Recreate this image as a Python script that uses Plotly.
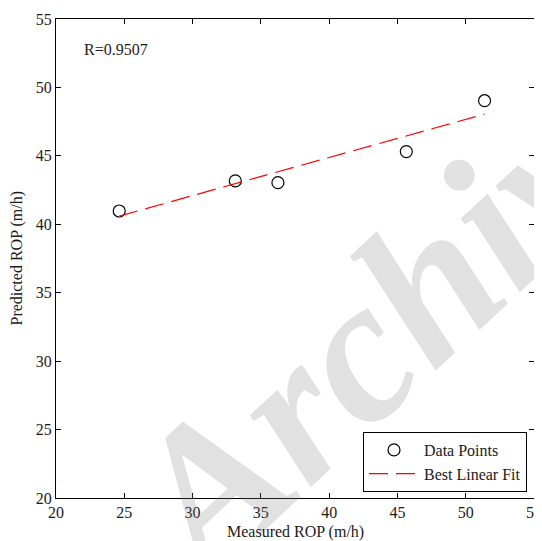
import plotly.graph_objects as go

measured = [24.63, 33.13, 36.25, 45.65, 51.38]
predicted = [40.97, 43.17, 43.04, 45.31, 49.03]
fit_x = [24.63, 51.38]
fit_y = [40.6, 48.05]
ticks = [20, 25, 30, 35, 40, 45, 50, 55]
r_text = "R=0.9507"
x_title = "Measured ROP (m/h)"
y_title = "Predicted ROP (m/h)"
watermark = "Archive"

FONT = "Liberation Serif, Times New Roman, serif"
TXT = "#1a1a1a"

# page body has an 8px default margin; plot area targeted at page px x 56..534, y 19..498
PW, PH = 478, 479

fig = go.Figure()
fig.add_trace(go.Scatter(
    x=measured, y=predicted, mode="markers", name="Data Points",
    marker=dict(symbol="circle-open", size=12, color="black", line=dict(width=1.2, color="black")),
))
fig.add_trace(go.Scatter(
    x=fit_x, y=fit_y, mode="lines", name="Best Linear Fit",
    line=dict(color="red", width=1.2, dash="19px,8px"),
))

axis_common = dict(
    range=[20, 55], tickmode="array", tickvals=ticks, ticktext=[str(t) for t in ticks],
    ticks="inside", ticklen=5, tickwidth=1, tickcolor="black",
    showline=True, linecolor="black", linewidth=1, mirror="ticks",
    showgrid=False, zeroline=False, automargin=False,
    tickfont=dict(family=FONT, size=16, color=TXT),
)

fig.update_layout(
    width=534, height=533,
    margin=dict(l=48, r=8, t=11, b=43, autoexpand=False),
    paper_bgcolor="white", plot_bgcolor="white",
    font=dict(family=FONT, size=16, color=TXT),
    xaxis=dict(**axis_common),
    yaxis=dict(**axis_common),
    legend=dict(
        x=(527 - 56) / PW, y=(498 - 492) / PH, xanchor="right", yanchor="bottom",
        bgcolor="white", bordercolor="black", borderwidth=1,
        font=dict(family=FONT, size=16, color=TXT),
        itemwidth=50, tracegroupgap=0,
    ),
    annotations=[
        dict(x=(397 - 56) / PW, y=(498 - 311) / PH, xref="paper", yref="paper",
             text="<b><i>" + watermark + "</i></b>",
             showarrow=False, textangle=-43, xanchor="center", yanchor="middle",
             font=dict(family=FONT, size=205, color="rgba(128,128,128,0.24)")),
        dict(x=21.9, y=52.74, xref="x", yref="y", text=r_text, showarrow=False,
             xanchor="left", yanchor="middle", font=dict(family=FONT, size=16, color=TXT)),
        dict(x=0.5, y=-34 / PH, xref="paper", yref="paper", text=x_title, showarrow=False,
             xanchor="center", yanchor="middle", font=dict(family=FONT, size=16, color=TXT)),
        dict(x=-40 / PW, y=0.5, xref="paper", yref="paper", text=y_title, showarrow=False,
             textangle=-90, xanchor="center", yanchor="middle",
             font=dict(family=FONT, size=16, color=TXT)),
    ],
)

fig.write_html("out.html")
